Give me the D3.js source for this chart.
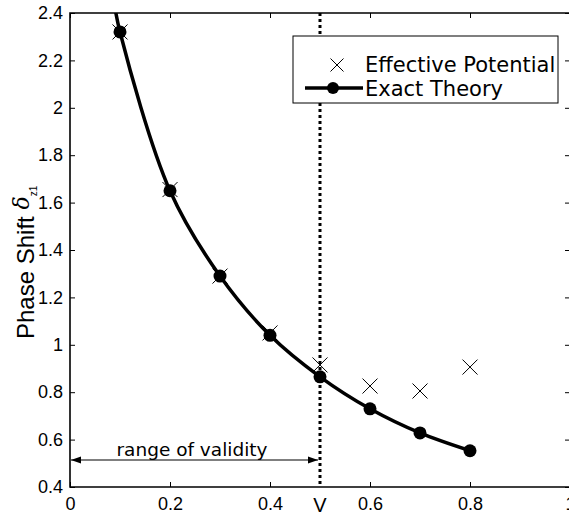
<!DOCTYPE html>
<html>
<head>
<meta charset="utf-8">
<script src="https://cdn.jsdelivr.net/npm/d3@7/dist/d3.min.js"></script>
<style>
  html, body { margin: 0; padding: 0; background: #fff; }
  svg { display: block; }
</style>
</head>
<body>
<svg id="chart" width="569" height="515"></svg>
<script>
// Velocity values where both models were evaluated
const velocities = [0.1, 0.2, 0.3, 0.4, 0.5, 0.6, 0.7, 0.8];
// Phase shift from the exact theory
const exactTheory = [2.32, 1.65, 1.29, 1.04, 0.865, 0.73, 0.628, 0.553];
// Phase shift from the effective potential approximation
const effectivePotential = [2.32, 1.655, 1.29, 1.05, 0.915, 0.826, 0.805, 0.906];
// Upper start of the exact-theory curve (leaves the top of the axes)
const theoryLeadX = [0.087];
const theoryLeadY = [2.46];

const xTicks = [0, 0.2, 0.4, 0.6, 0.8, 1];
const xTickLabels = ["0", "0.2", "0.4", "0.6", "0.8", "1"];
const yTicks = [0.4, 0.6, 0.8, 1, 1.2, 1.4, 1.6, 1.8, 2, 2.2, 2.4];
const yTickLabels = ["0.4", "0.6", "0.8", "1", "1.2", "1.4", "1.6", "1.8", "2", "2.2", "2.4"];
const validityLimit = 0.5;
const validityLabel = "range of validity";
const limitLabel = "V";
const seriesNames = ["Effective Potential", "Exact Theory"];

const svg = d3.select("#chart");
const plotLeft = 70, plotTop = 13, plotBottom = 487, plotRight = 570;

const x = d3.scaleLinear().domain([0, 1]).range([plotLeft, plotRight]);
const y = d3.scaleLinear().domain([0.4, 2.4]).range([plotBottom, plotTop]);

svg.append("rect").attr("width", 569).attr("height", 515).attr("fill", "#fff");

svg.append("defs").append("clipPath").attr("id", "plotClip")
  .append("rect").attr("x", plotLeft).attr("y", plotTop)
  .attr("width", plotRight - plotLeft).attr("height", plotBottom - plotTop);

const tickFont = "'Liberation Sans', Arial, Helvetica, sans-serif";

// Bottom axis with inward ticks
const xAxis = d3.axisBottom(x).tickValues(xTicks)
  .tickFormat((d, i) => xTickLabels[i]).tickSizeInner(-5).tickSizeOuter(0).tickPadding(10);
const gx = svg.append("g").attr("transform", `translate(0,${plotBottom})`).call(xAxis);
gx.select(".domain").remove();
gx.selectAll("text").attr("font-family", tickFont).attr("font-size", 18).attr("fill", "#000");

// Top axis ticks (inward)
const gxt = svg.append("g").attr("transform", `translate(0,${plotTop})`)
  .call(d3.axisTop(x).tickValues(xTicks).tickSizeInner(-5).tickSizeOuter(0).tickFormat(""));
gxt.select(".domain").remove();

// Left axis
const yAxis = d3.axisLeft(y).tickValues(yTicks)
  .tickFormat((d, i) => yTickLabels[i]).tickSizeInner(-5).tickSizeOuter(0).tickPadding(7);
const gy = svg.append("g").attr("transform", `translate(${plotLeft},0)`).call(yAxis);
gy.select(".domain").remove();
gy.selectAll("text").attr("font-family", tickFont).attr("font-size", 18).attr("fill", "#000");

// Right axis ticks (inward)
const gyr = svg.append("g").attr("transform", `translate(${plotRight},0)`)
  .call(d3.axisRight(y).tickValues(yTicks).tickSizeInner(-5).tickSizeOuter(0).tickFormat(""));
gyr.select(".domain").remove();

svg.selectAll(".tick line").attr("stroke", "#000").attr("stroke-width", 1);

// Axes frame
svg.append("path")
  .attr("d", `M${plotLeft},${plotTop}H${plotRight}V${plotBottom}H${plotLeft}Z`)
  .attr("fill", "none").attr("stroke", "#000").attr("stroke-width", 1.6);

// Limit label under the dotted line
svg.append("text").attr("x", x(validityLimit)).attr("y", 512)
  .attr("text-anchor", "middle").attr("font-family", tickFont).attr("font-size", 20)
  .text(limitLabel);

// Y axis label with the Greek symbol
const yl = svg.append("text")
  .attr("transform", "translate(34,339) rotate(-90)")
  .attr("font-family", tickFont).attr("font-size", 24).attr("fill", "#000");
yl.append("tspan").text("Phase Shift ");
yl.append("tspan").attr("dy", -5)
  .attr("font-family", "'DejaVu Serif', 'Liberation Serif', serif")
  .attr("font-style", "italic").attr("font-size", 22).text("δ");
yl.append("tspan").attr("dy", 8).attr("font-size", 10).text("z1");

const plot = svg.append("g").attr("clip-path", "url(#plotClip)");

// Dotted line marking the validity limit
plot.append("line")
  .attr("x1", x(validityLimit)).attr("x2", x(validityLimit))
  .attr("y1", plotTop).attr("y2", plotBottom)
  .attr("stroke", "#000").attr("stroke-width", 3).attr("stroke-dasharray", "3,3");

// Exact theory curve
const theoryPts = theoryLeadX.map((v, i) => [v, theoryLeadY[i]])
  .concat(velocities.map((v, i) => [v, exactTheory[i]]));
const line = d3.line().x(d => x(d[0])).y(d => y(d[1])).curve(d3.curveCatmullRom.alpha(0.5));
plot.append("path").datum(theoryPts).attr("d", line)
  .attr("fill", "none").attr("stroke", "#000").attr("stroke-width", 3.5).attr("stroke-linejoin", "round");

plot.selectAll("circle.theory").data(velocities).enter().append("circle")
  .attr("class", "theory")
  .attr("cx", d => x(d)).attr("cy", (d, i) => y(exactTheory[i])).attr("r", 6.5).attr("fill", "#000");

// Effective potential crosses
const cross = 7.5;
plot.selectAll("path.eff").data(velocities).enter().append("path")
  .attr("class", "eff")
  .attr("d", (d, i) => {
    const cx = x(d), cy = y(effectivePotential[i]);
    return `M${cx - cross},${cy - cross}L${cx + cross},${cy + cross}M${cx - cross},${cy + cross}L${cx + cross},${cy - cross}`;
  })
  .attr("stroke", "#000").attr("stroke-width", 1).attr("fill", "none");

// Range of validity annotation
const arrowY = 460;
const ax0 = x(0) + 1, ax1 = x(validityLimit) - 2;
svg.append("line").attr("x1", ax0).attr("x2", ax1).attr("y1", arrowY).attr("y2", arrowY)
  .attr("stroke", "#000").attr("stroke-width", 1.2);
svg.append("path").attr("d", `M${ax0},${arrowY}l10,-3.5v7Z`).attr("fill", "#000");
svg.append("path").attr("d", `M${ax1},${arrowY}l-10,-3.5v7Z`).attr("fill", "#000");
svg.append("text").attr("x", 192).attr("y", 456)
  .attr("text-anchor", "middle").attr("font-family", "'DejaVu Sans', sans-serif")
  .attr("font-size", 18.5).text(validityLabel);

// Legend
const lg = svg.append("g");
lg.append("rect").attr("x", 293).attr("y", 36).attr("width", 265).attr("height", 67)
  .attr("fill", "#fff").attr("stroke", "#000").attr("stroke-width", 1);
const lcx = 337, lcy = 65, lc = 6.5;
lg.append("path")
  .attr("d", `M${lcx - lc},${lcy - lc}L${lcx + lc},${lcy + lc}M${lcx - lc},${lcy + lc}L${lcx + lc},${lcy - lc}`)
  .attr("stroke", "#000").attr("stroke-width", 1);
lg.append("line").attr("x1", 305).attr("x2", 363).attr("y1", 88).attr("y2", 88)
  .attr("stroke", "#000").attr("stroke-width", 3.5);
lg.append("circle").attr("cx", 333).attr("cy", 88).attr("r", 6).attr("fill", "#000");
lg.selectAll("text.leg").data(seriesNames).enter().append("text")
  .attr("class", "leg")
  .attr("x", 365).attr("y", (d, i) => 72 + i * 23.5)
  .attr("font-family", "'DejaVu Sans', sans-serif").attr("font-size", 21)
  .text(d => d);
</script>
</body>
</html>
